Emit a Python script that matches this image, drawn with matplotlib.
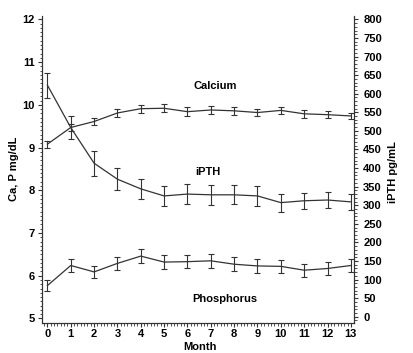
import numpy as np
import matplotlib.pyplot as plt
from matplotlib.ticker import MultipleLocator

months = np.arange(14)

calcium = [9.08, 9.47, 9.61, 9.81, 9.91, 9.92, 9.84, 9.88, 9.86, 9.82, 9.87, 9.79, 9.77, 9.74]
calcium_err = [0.08, 0.08, 0.08, 0.09, 0.09, 0.09, 0.1, 0.09, 0.09, 0.09, 0.09, 0.09, 0.08, 0.08]

phosphorus = [5.77, 6.24, 6.09, 6.29, 6.46, 6.32, 6.33, 6.35, 6.27, 6.23, 6.22, 6.13, 6.17, 6.24]
phosphorus_err = [0.12, 0.16, 0.15, 0.16, 0.16, 0.16, 0.15, 0.17, 0.16, 0.16, 0.15, 0.15, 0.15, 0.16]

ipth = [623, 509, 413, 370, 344, 325, 330, 328, 328, 325, 307, 312, 314, 309]
ipth_err = [34, 30, 34, 30, 26, 27, 26, 27, 26, 26, 24, 22, 22, 22]

plt.rcParams['font.family'] = ['Liberation Sans', 'DejaVu Sans']
plt.rcParams['font.size'] = 8
plt.rcParams['font.weight'] = 'bold'

fig = plt.figure(figsize=(4.14, 3.53), dpi=100)
ax = fig.add_axes([0.101, 0.0864, 0.7544, 0.868])
ax2 = ax.twinx()

col = '#333333'
eb = dict(color=col, lw=0.9, elinewidth=0.8, capsize=2.2, capthick=0.8)
ax.errorbar(months, calcium, yerr=calcium_err, **eb)
ax.errorbar(months, phosphorus, yerr=phosphorus_err, **eb)
ax2.errorbar(months, ipth, yerr=ipth_err, **eb)

ax.set_xlim(-0.24, 13.14)
ax.set_ylim(4.906, 12.077)
ax2.set_ylim(-15.6, 808.9)

ax.set_xticks(months)
ax.xaxis.set_minor_locator(MultipleLocator(1 / 7))
ax.yaxis.set_minor_locator(MultipleLocator(0.1))
ax2.set_yticks(np.arange(0, 801, 50))
ax2.yaxis.set_minor_locator(MultipleLocator(10))

for a in (ax, ax2):
    a.spines['top'].set_visible(False)
    for s in a.spines.values():
        s.set_linewidth(0.8)
        s.set_color(col)
    a.tick_params(which='major', length=3, width=0.8, color=col, labelsize=8)
    a.tick_params(which='minor', length=1.8, width=0.6, color=col)
ax.tick_params(axis='y', pad=2)
ax.tick_params(axis='x', pad=2)
ax2.tick_params(axis='y', pad=3.5)

ax.set_xlabel('Month', fontweight='bold')
ax.set_ylabel('Ca, P mg/dL', fontweight='bold')
ax2.set_ylabel('iPTH pg/mL', fontweight='bold', rotation=90)
ax.xaxis.set_label_coords(0.507, -0.063)
ax.yaxis.set_label_coords(-0.073, 0.5)
ax2.yaxis.set_label_coords(1.109, 0.49)

ax.text(7.18, 10.44, 'Calcium', ha='center', va='center', fontweight='bold')
ax.text(6.87, 8.43, 'iPTH', ha='center', va='center', fontweight='bold')
ax.text(7.61, 5.46, 'Phosphorus', ha='center', va='center', fontweight='bold')

fig.savefig('out.png', dpi=100)
